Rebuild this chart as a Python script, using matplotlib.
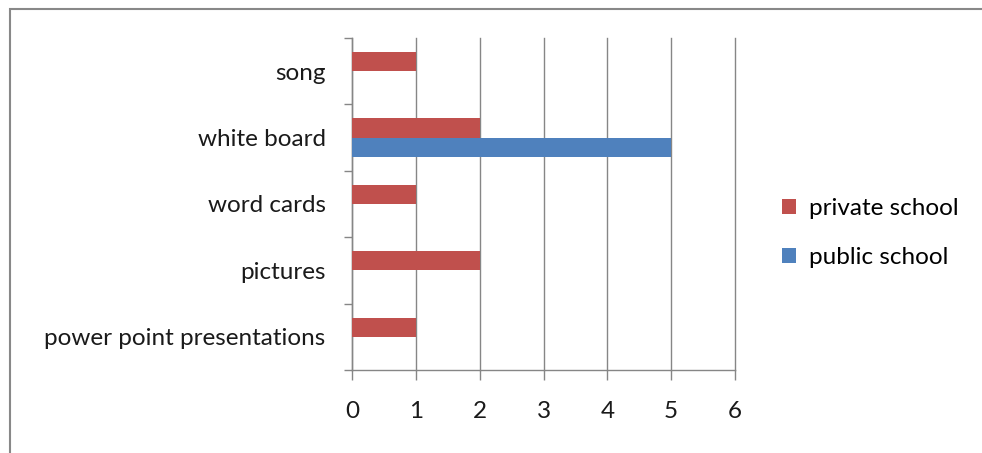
import numpy as np
import matplotlib.pyplot as plt
from matplotlib.patches import Rectangle

# Data (bottom to top)
categories = ["power point presentations", "pictures", "word cards", "white board", "song"]
private_school = [1, 2, 1, 2, 1]
public_school = [0, 0, 0, 5, 0]
x_ticks = [0, 1, 2, 3, 4, 5, 6]

red = "#C0504D"
blue = "#4F81BD"
grid_col = "#868686"

plt.rcParams["font.family"] = ["Lato", "DejaVu Sans"]

fig = plt.figure(figsize=(9.82, 4.53), dpi=100)
W, H = 982, 453
ax = fig.add_axes([352 / W, 1 - 370 / H, (735 - 352) / W, (370 - 38) / H])

y = np.arange(len(categories))
h = 0.29
ax.barh(y + h / 2, private_school, height=h, color=red, label="private school", zorder=3)
ax.barh(y - h / 2, public_school, height=h, color=blue, label="public school", zorder=3)

ax.set_xlim(0, 6)
ax.set_ylim(-0.5, len(categories) - 0.5)
ax.set_xticks(x_ticks)
ax.set_xticklabels([str(v) for v in x_ticks], fontsize=17.5, color="#1a1a1a")
ax.xaxis.grid(True, color=grid_col, linewidth=1, zorder=0)
for gl in ax.get_xgridlines():
    gl.set_clip_on(False)

# category labels centered, tick marks on boundaries
ax.set_yticks(y)
ax.set_yticklabels(categories, fontsize=17.5, color="#1a1a1a")
ax.tick_params(axis="y", length=0, pad=19)
ax.set_yticks(np.arange(-0.5, len(categories)), minor=True)
ax.tick_params(axis="y", which="minor", length=6, color=grid_col, width=1)
ax.tick_params(axis="x", length=7, color=grid_col, width=1, pad=15)

for side in ["top", "right"]:
    ax.spines[side].set_visible(False)
for side in ["left", "bottom"]:
    ax.spines[side].set_color(grid_col)
    ax.spines[side].set_linewidth(1)

leg = fig.legend(loc="center left", bbox_to_anchor=(760 / W, 1 - 233 / H),
                 frameon=False, fontsize=17.5, handlelength=0.6, handleheight=0.6,
                 handletextpad=0.5, labelspacing=1.15)

# outer chart frame
fig.patches.append(Rectangle((10 / W, -0.1), 1.2, 1 - 9 / H + 0.1, transform=fig.transFigure,
                             fill=False, edgecolor="#888888", linewidth=1.5, zorder=0))

fig.savefig("out.png", dpi=100)
